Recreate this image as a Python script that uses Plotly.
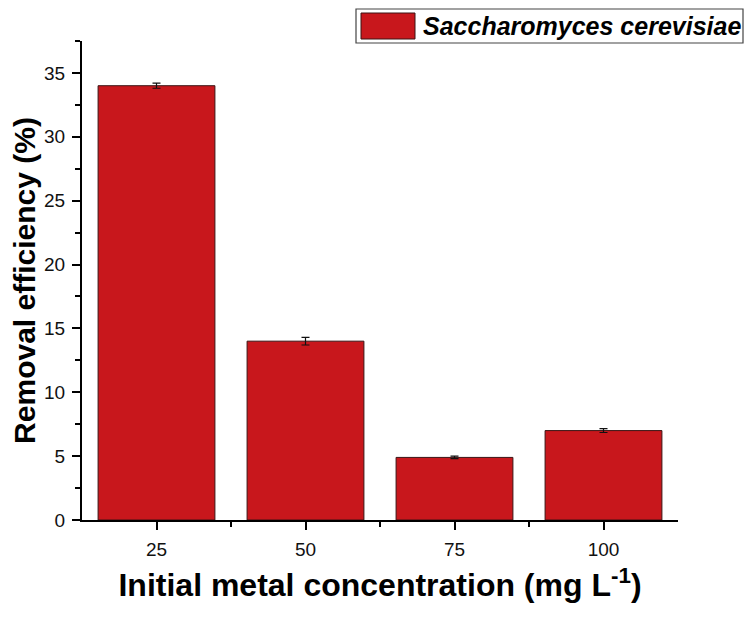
import plotly.graph_objects as go

# initial metal concentration (mg/L) and removal efficiency (%)
concentrations = [25, 50, 75, 100]
removal = [34.0, 14.0, 4.9, 7.0]
removal_err = [0.2, 0.3, 0.1, 0.15]
series_name = "Saccharomyces cerevisiae"

BAR_RED = "#C8171C"
FONT = "Liberation Sans, Arial, sans-serif"
TICK_FONT = dict(family=FONT, size=19, color="#111")

# the page body adds an 8px margin, so the figure is 8px smaller than the window
# and every position below is taken 8px left/up of where it shows
OFF = 8
W, H = 754 - OFF, 620 - OFF
L, R, T, B = 82 - OFF, 76, 41 - OFF, 100
PW, PH = W - L - R, H - T - B

fig = go.Figure()
fig.add_trace(go.Bar(
    x=concentrations,
    y=removal,
    width=19.6,
    name=series_name,
    marker=dict(color=BAR_RED, line=dict(color="#3a1414", width=1)),
    error_y=dict(type="data", array=removal_err, visible=True,
                 color="#111", thickness=1.2, width=4),
    showlegend=False,
))

fig.update_layout(
    width=W, height=H,
    margin=dict(l=L, r=R, t=T, b=B),
    plot_bgcolor="white", paper_bgcolor="white",
    xaxis=dict(
        range=[12.5, 112.5],
        tickmode="array", tickvals=concentrations, ticktext=[str(c) for c in concentrations],
        ticks="outside", ticklen=8, tickwidth=1.5, tickcolor="black",
        ticklabelstandoff=3,
        minor=dict(tickmode="array", tickvals=[37.5, 62.5, 87.5], ticks="outside",
                   ticklen=5, tickwidth=1.5, tickcolor="black"),
        showline=True, linecolor="black", linewidth=2,
        showgrid=False, zeroline=False,
        tickfont=TICK_FONT,
        title=dict(text="<b>Initial metal concentration (mg L<sup>-1</sup>)</b>",
                   font=dict(family=FONT, size=32, color="black"),
                   standoff=15),
    ),
    yaxis=dict(
        range=[0, 37.5],
        tickmode="linear", tick0=0, dtick=5,
        ticks="outside", ticklen=8, tickwidth=1.5, tickcolor="black",
        ticklabelstandoff=3,
        minor=dict(tick0=2.5, dtick=5, ticks="outside", ticklen=5,
                   tickwidth=1.5, tickcolor="black"),
        showline=True, linecolor="black", linewidth=2,
        showgrid=False, zeroline=False,
        tickfont=TICK_FONT,
        title=dict(text="<b>Removal efficiency (%)</b>",
                   font=dict(family=FONT, size=30, color="black"),
                   standoff=4),
    ),
)

# legend box drawn by hand so the swatch can match the original size
# (arguments are in window pixels)
def px_x(v):
    return (v - OFF - L) / PW


def px_y(v):
    return (H - B - (v - OFF)) / PH


fig.add_shape(type="rect", xref="paper", yref="paper",
              x0=px_x(356), x1=px_x(743), y0=px_y(43), y1=px_y(9),
              line=dict(color="#444", width=1.2), fillcolor="white")
fig.add_shape(type="rect", xref="paper", yref="paper",
              x0=px_x(361), x1=px_x(415), y0=px_y(39), y1=px_y(13),
              line=dict(color="#3a1414", width=1), fillcolor=BAR_RED)
fig.add_annotation(xref="paper", yref="paper",
                   x=px_x(421), y=px_y(26),
                   xanchor="left", yanchor="middle", showarrow=False,
                   text="<b><i>" + series_name + "</i></b>",
                   font=dict(family=FONT, size=25, color="black"))

fig.write_html("out.html")
